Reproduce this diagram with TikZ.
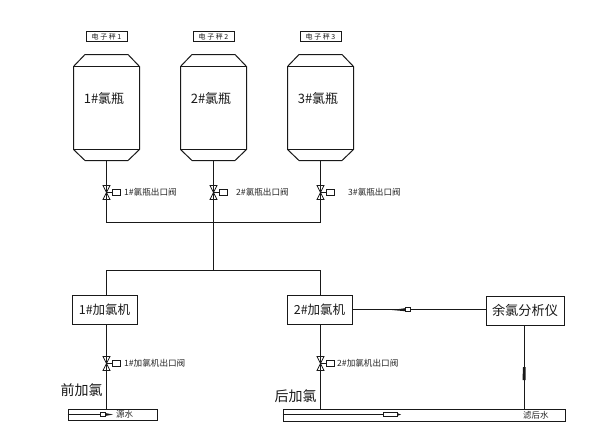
\documentclass[tikz,border=0pt]{standalone}
\usepackage{fontspec}
\newfontfamily\cjk{Noto Sans CJK SC}
\tikzset{
  x=1pt,y=-1pt,
  ln/.style={draw=black!90,line width=1pt},
  thin ln/.style={draw=black!90,line width=0.8pt},
  box/.style={ln,fill=white,minimum width=65pt,minimum height=29pt,inner sep=0pt,font=\cjk\fontsize{12.5}{14}\selectfont,text=black!90},
  tag/.style={thin ln,fill=white,minimum width=41pt,minimum height=9.5pt,inner sep=0pt,font=\cjk\fontsize{7}{7}\selectfont,text=black!90},
  lbl/.style={inner sep=0pt,anchor=west,font=\cjk\fontsize{8.6}{9}\selectfont,text=black!85},
  wlbl/.style={lbl,font=\cjk\fontsize{8.5}{9}\selectfont},
  big/.style={inner sep=0pt,font=\cjk\fontsize{13}{14}\selectfont,text=black!90},
  hand/.style={thin ln,fill=white,minimum width=7.5pt,minimum height=5.5pt,inner sep=0pt},
  vlv/.pic={
    \draw[thin ln] (-3.5,-7) -- (3.5,-7) -- (-3.5,7) -- (3.5,7) -- cycle;
    \draw[thin ln] (0,0) -- (6,0);
  }
}
\begin{document}
\begin{tikzpicture}
\useasboundingbox[fill=white] (0,0) rectangle (596,439);
% bottles
\foreach \c/\n in {106.5/1,213.5/2,320.5/3}{
  \node[tag] (t\n) at (\c,36.5) {电 子 秤 \n};
  \draw[ln] (\c-33,66.5) -- (\c-21.5,54.5) -- (\c+21.5,54.5) -- (\c+33,66.5) -- (\c+33,149.5) -- (\c+21.5,160.5) -- (\c-21.5,160.5) -- (\c-33,149.5) -- cycle;
  \draw[ln] (\c-33,66.5) -- (\c+33,66.5) (\c-33,149.5) -- (\c+33,149.5);
  \node[big] (b\n) at (\c-2.5,98.5) {\n\#氯瓶};
  \coordinate (bo\n) at (\c,160.5);
  \coordinate (v\n) at (\c,192.5);
  \coordinate (j\n) at (\c,222.5);
  \node[hand] (h\n) at (\c+10,192.5) {};
  \pic at (v\n) {vlv};
}
\node[lbl] at (124,192) {1\#氯瓶出口阀};
\node[lbl] at (236,192) {2\#氯瓶出口阀};
\node[lbl] at (348,192) {3\#氯瓶出口阀};
\draw[ln] (bo1) -- (j1) -- (j3) -- (bo3);
\draw[ln] (bo2) -- (j2);
% machines
\node[box] (m1) at (104.5,309.5) {1\#加氯机};
\node[box] (m2) at (319.5,309.5) {2\#加氯机};
\node[box,minimum width=78pt,font=\cjk\fontsize{13.2}{14}\selectfont] (an) at (525,310.5) {余氯分析仪};
\coordinate (s) at (213.5,270.5);
\coordinate (s1) at (106.5,270.5);
\coordinate (s2) at (320.5,270.5);
\draw[ln] (j2) -- (s);
\draw[ln] (m1.north -| s1) -- (s1) -- (s2) -- (m2.north -| s2);
% bars
\node[draw=black!90,line width=1pt,minimum width=89pt,minimum height=11pt,inner sep=0pt] (w1) at (112.5,414.5) {};
\node[draw=black!90,line width=1pt,minimum width=282pt,minimum height=12pt,inner sep=0pt] (w2) at (424,415) {};
% outlets
\coordinate (v4) at (106.5,363.5);
\coordinate (v5) at (320.5,363.5);
\draw[ln] (m1.south -| v4) -- (w1.north -| v4);
\draw[ln] (m2.south -| v5) -- (w2.north -| v5);
\pic at (v4) {vlv};
\pic at (v5) {vlv};
\node[hand] (h4) at (116.5,363.5) {};
\node[hand] (h5) at (330.5,363.5) {};
\node[lbl] at (124,363) {1\#加氯机出口阀};
\node[lbl] at (337,363) {2\#加氯机出口阀};
\node[big,font=\cjk\fontsize{14}{14}\selectfont] (q) at (81.5,390) {前加氯};
\node[big,font=\cjk\fontsize{14}{14}\selectfont] (p) at (295.5,396) {后加氯};
% analyser lines
\coordinate (an1) at (m2.east |- 0,309.5);
\coordinate (an2) at (an.west |- 0,309.5);
\coordinate (an3) at (524.5,325.5);
\draw[ln] (an1) -- (an2);
\draw[ln] (an3) -- (an3 |- w2.north);
% analyser arrows
\fill[black!90] (392,310) -- (405,308.2) -- (405,311.2) -- cycle;
\draw[thin ln,fill=white] (405,307.5) rectangle (410,311.5);
\fill[black!90] (523,367) -- (525.5,367) -- (525.5,380) -- (522.5,380) -- cycle;
% water lines
\coordinate (a1) at (100,414.5);
\draw[ln] (w1.west |- a1) -- (a1);
\draw[thin ln] (a1) ++(0,-2) rectangle ++(5,4);
\fill[black!90] (105,413) -- (113,414.5) -- (105,416) -- cycle;
\node[wlbl] at (116,414.5) {源水};
\coordinate (a2) at (383,414.5);
\draw[ln] (w2.west |- a2) -- (a2);
\draw[thin ln] (a2) ++(0,-2) rectangle ++(14,3.5);
\fill[black!90] (397,413) -- (401,414.5) -- (397,416) -- cycle;
\node[wlbl] at (523,415) {滤后水};
\end{tikzpicture}
\end{document}
